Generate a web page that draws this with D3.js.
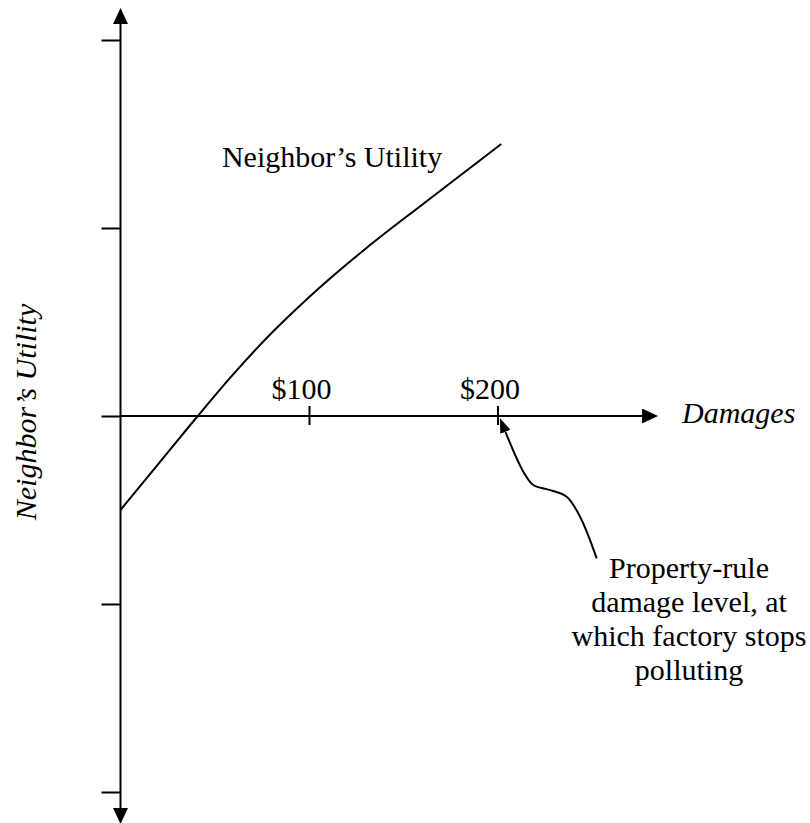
<!DOCTYPE html>
<html>
<head>
<meta charset="utf-8">
<script src="https://cdn.jsdelivr.net/npm/d3@7"></script>
<style>
  body { margin: 0; background: white; }
  svg { display: block; font-family: "Liberation Serif", "Times New Roman", serif; }
</style>
</head>
<body>
<svg id="graph"></svg>
<script>
// Damages ($) vs neighbor's utility (unitless, ticks at -2..2).
const damages = [0, 20, 41, 60, 80, 100, 130, 160, 202]
const utility = [-0.5, -0.256, 0, 0.224, 0.44, 0.632, 0.89, 1.124, 1.447]

const xTickValues = [100, 200]
const xTickLabels = ["$100", "$200"]
const yTickValues = [-2, -1, 0, 1, 2]

// Callout arrow pointing at the $200 tick, in data units.
const calloutX = [204.2, 213.7, 219, 228, 236.7, 243.8, 252.6]
const calloutY = [-0.084, -0.296, -0.367, -0.394, -0.429, -0.536, -0.757]
const calloutLines = ["Property-rule", "damage level, at", "which factory stops", "polluting"]

const curveLabel = "Neighbor\u2019s Utility"
const yLabel = "Neighbor\u2019s Utility"
const xLabel = "Damages"

const width = 810, height = 823;

const svg = d3.select("#graph")
  .attr("width", width)
  .attr("height", height);

const xScale = d3.scaleLinear().domain([0, 200]).range([120.5, 497.5]);
const yScale = d3.scaleLinear().domain([-2, 2]).range([792, 40]);

// Arrowheads.
const defs = svg.append("defs");
function marker(id, len, w) {
  defs.append("marker")
    .attr("id", id)
    .attr("markerUnits", "userSpaceOnUse")
    .attr("viewBox", `0 0 ${len} ${w}`)
    .attr("markerWidth", len)
    .attr("markerHeight", w)
    .attr("refX", 0)
    .attr("refY", w / 2)
    .attr("orient", "auto-start-reverse")
    .append("path")
    .attr("d", `M0,0 L${len},${w / 2} L0,${w} Z`)
    .attr("fill", "black");
}
marker("axisArrow", 16, 15);
marker("calloutArrow", 15, 11);

// Axis lines.
svg.append("line")
  .attr("x1", xScale(0)).attr("x2", xScale(0))
  .attr("y1", yScale(-2.085)).attr("y2", yScale(2.085))
  .attr("stroke", "black").attr("stroke-width", 2)
  .attr("marker-start", "url(#axisArrow)")
  .attr("marker-end", "url(#axisArrow)");
svg.append("line")
  .attr("x1", xScale(0)).attr("x2", xScale(276.7))
  .attr("y1", yScale(0)).attr("y2", yScale(0))
  .attr("stroke", "black").attr("stroke-width", 2)
  .attr("marker-end", "url(#axisArrow)");

// Y ticks (left only, no labels).
svg.append("g")
  .attr("transform", `translate(${xScale(0)},0)`)
  .call(d3.axisLeft(yScale).tickValues(yTickValues).tickSize(19).tickFormat(""))
  .call(g => g.select(".domain").remove())
  .call(g => g.selectAll(".tick line").attr("stroke", "black").attr("stroke-width", 2));

// X ticks, straddling the axis, labels above.
svg.append("g")
  .attr("transform", `translate(0,${yScale(0) + 9})`)
  .call(d3.axisTop(xScale).tickValues(xTickValues).tickSize(19).tickPadding(7)
    .tickFormat((d, i) => xTickLabels[i]))
  .call(g => g.select(".domain").remove())
  .call(g => g.selectAll(".tick line").attr("stroke", "black").attr("stroke-width", 2))
  .call(g => g.selectAll(".tick text")
    .attr("font-family", "'Liberation Serif', 'Times New Roman', serif")
    .attr("font-size", 30)
    .attr("fill", "black")
    .attr("dx", -8));

// Utility curve.
const line = d3.line()
  .curve(d3.curveMonotoneX)
  .x(d => xScale(d[0]))
  .y(d => yScale(d[1]));
svg.append("path")
  .datum(damages.map((d, i) => [d, utility[i]]))
  .attr("fill", "none")
  .attr("stroke", "black")
  .attr("stroke-width", 2)
  .attr("d", line);

svg.append("text")
  .attr("x", xScale(53.8))
  .attr("y", yScale(1.326))
  .attr("font-size", 30)
  .text(curveLabel);

// Callout.
const calloutLine = d3.line()
  .curve(d3.curveCatmullRom)
  .x(d => xScale(d[0]))
  .y(d => yScale(d[1]));
svg.append("path")
  .datum(calloutX.map((d, i) => [d, calloutY[i]]))
  .attr("fill", "none")
  .attr("stroke", "black")
  .attr("stroke-width", 2)
  .attr("marker-start", "url(#calloutArrow)")
  .attr("d", calloutLine);

const callout = svg.append("text")
  .attr("x", xScale(301.6))
  .attr("y", yScale(-0.862))
  .attr("font-size", 30)
  .attr("text-anchor", "middle");
callout.selectAll("tspan")
  .data(calloutLines)
  .join("tspan")
  .attr("x", xScale(301.6))
  .attr("dy", (d, i) => i == 0 ? 0 : 34)
  .text(d => d);

// Axis titles.
svg.append("text")
  .attr("x", xScale(297.9))
  .attr("y", yScale(-0.037))
  .attr("font-size", 30)
  .attr("font-style", "italic")
  .text(xLabel);

svg.append("text")
  .attr("transform", `translate(36,412) rotate(-90)`)
  .attr("text-anchor", "middle")
  .attr("font-size", 30)
  .attr("font-style", "italic")
  .text(yLabel);
</script>
</body>
</html>
